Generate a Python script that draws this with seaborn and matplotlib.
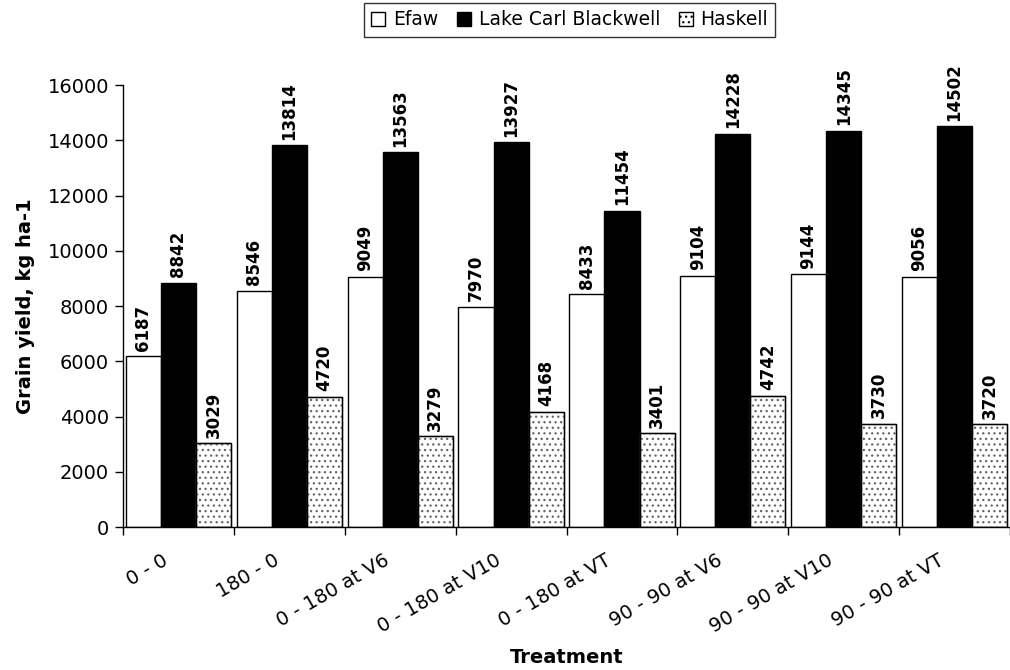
import matplotlib
matplotlib.use("Agg")
import matplotlib.pyplot as plt
import seaborn as sns
import pandas as pd
from matplotlib.patches import Patch

treatments = ["0 - 0", "180 - 0", "0 - 180 at V6", "0 - 180 at V10", "0 - 180 at VT",
              "90 - 90 at V6", "90 - 90 at V10", "90 - 90 at VT"]
sites = ["Efaw", "Lake Carl Blackwell", "Haskell"]
efaw = [6187, 8546, 9049, 7970, 8433, 9104, 9144, 9056]
lcb = [8842, 13814, 13563, 13927, 11454, 14228, 14345, 14502]
haskell = [3029, 4720, 3279, 4168, 3401, 4742, 3730, 3720]
yticks = [0, 2000, 4000, 6000, 8000, 10000, 12000, 14000, 16000]

rows = []
for s, vals in zip(sites, [efaw, lcb, haskell]):
    for t, v in zip(treatments, vals):
        rows.append({"Treatment": t, "Site": s, "Yield": v})
df = pd.DataFrame(rows)

sns.set_style("white")
plt.rcParams["font.family"] = ["DejaVu Sans"]
plt.rcParams["hatch.linewidth"] = 0.9
for k in ["text.color", "axes.labelcolor", "xtick.color", "ytick.color"]:
    plt.rcParams[k] = "black"

fig = plt.figure(figsize=(10.1, 6.7), dpi=100)
ax = fig.add_axes([0.1218, 0.2134, 0.8782, 0.6597])

colors = {"Efaw": "white", "Lake Carl Blackwell": "black", "Haskell": "white"}
sns.barplot(data=df, x="Treatment", y="Yield", hue="Site", order=treatments,
            hue_order=sites, palette=colors, width=0.95, edgecolor="black",
            linewidth=1.0, ax=ax, legend=False, errorbar=None, saturation=1)

HATCH = "..."
for cont, s in zip(ax.containers, sites):
    if s == "Haskell":
        for p in cont:
            p.set_hatch(HATCH)
            p.set_edgecolor("#666666")
    ax.bar_label(cont, labels=[f"{int(v)}" for v in cont.datavalues], rotation=90,
                 padding=4, fontsize=12, fontweight="bold", clip_on=False)

for p in ax.containers[2]:
    x, w, h = p.get_x(), p.get_width(), p.get_height()
    ax.add_patch(plt.Rectangle((x, 0), w, h, fill=False, edgecolor="black", linewidth=1.0))

ax.set_xlim(-0.5, len(treatments) - 0.5)
ax.set_ylim(0, 16000)
ax.set_yticks(yticks)
ax.set_yticklabels([str(v) for v in yticks], fontsize=14)
# category labels placed slightly left of each group centre, as in the original
ax.set_xticks([i - 0.15 for i in range(len(treatments))])
ax.set_xticklabels(treatments, rotation=30, ha="right", rotation_mode="anchor", fontsize=14)
ax.set_xticks([i - 0.5 for i in range(len(treatments) + 1)], minor=True)
ax.tick_params(axis="x", which="major", length=0, pad=17)
ax.tick_params(axis="x", which="minor", length=6, width=1, direction="out", bottom=True)
ax.tick_params(axis="y", length=6, width=1, direction="out", left=True, pad=4)

for side in ["top", "right"]:
    ax.spines[side].set_visible(False)
for side in ["left", "bottom"]:
    ax.spines[side].set_color("black")
    ax.spines[side].set_linewidth(1.0)

ax.set_ylabel("Grain yield, kg ha-1", fontsize=14, fontweight="bold", labelpad=9)
ax.set_xlabel("Treatment", fontsize=14, fontweight="bold", labelpad=8)

handles = [Patch(facecolor="white", edgecolor="black", label="Efaw"),
           Patch(facecolor="black", edgecolor="black", label="Lake Carl Blackwell"),
           Patch(facecolor="white", edgecolor="black", hatch=HATCH, label="Haskell")]
leg = fig.legend(handles=handles, loc="upper center", bbox_to_anchor=(0.564, 0.996), ncol=3,
                 frameon=True, fancybox=False, edgecolor="black", fontsize=13.5,
                 handlelength=0.75, handleheight=0.75, handletextpad=0.4,
                 columnspacing=1.0, borderpad=0.4, borderaxespad=0)
leg.get_frame().set_linewidth(1.0)

fig.savefig("out.png", dpi=100)
